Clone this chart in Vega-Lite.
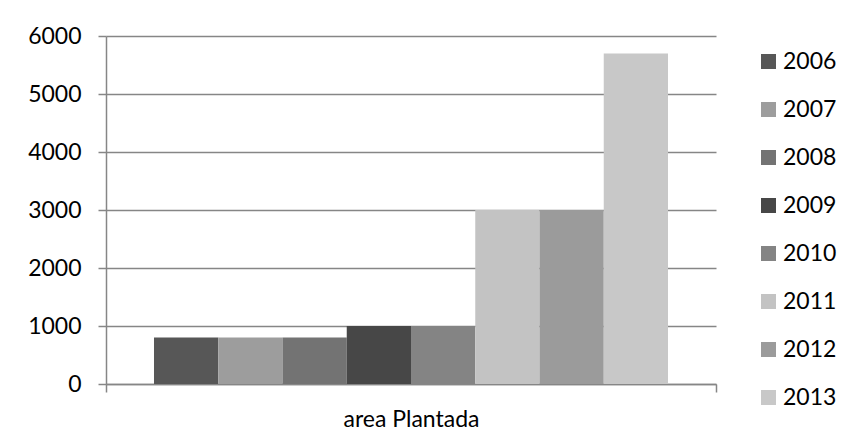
{
  "$schema": "https://vega.github.io/schema/vega-lite/v6.json",
  "width": 610,
  "height": 348,
  "autosize": {"type": "none"},
  "padding": {"left": 106, "top": 36, "right": 134, "bottom": 64},
  "background": "white",
  "config": {
    "view": {"stroke": null},
    "font": "Lato"
  },
  "data": {
    "values": [
      {"category": "area Plantada", "year": "2006", "value": 800},
      {"category": "area Plantada", "year": "2007", "value": 800},
      {"category": "area Plantada", "year": "2008", "value": 800},
      {"category": "area Plantada", "year": "2009", "value": 1000},
      {"category": "area Plantada", "year": "2010", "value": 1000},
      {"category": "area Plantada", "year": "2011", "value": 3000},
      {"category": "area Plantada", "year": "2012", "value": 3000},
      {"category": "area Plantada", "year": "2013", "value": 5700}
    ]
  },
  "mark": {"type": "bar", "strokeWidth": 0},
  "encoding": {
    "x": {
      "field": "category",
      "type": "nominal",
      "title": null,
      "scale": {"paddingInner": 0, "paddingOuter": 0},
      "axis": {
        "tickBand": "extent",
        "labelAngle": 0,
        "labelFont": "Lato",
        "labelFontSize": 23,
        "labelColor": "#000000",
        "labelPadding": 16,
        "tickSize": 8,
        "tickColor": "#868686",
        "tickWidth": 1.5,
        "domainColor": "#868686",
        "domainWidth": 1.5,
        "grid": false
      }
    },
    "xOffset": {
      "field": "year",
      "type": "nominal",
      "scale": {"paddingInner": 0, "paddingOuter": 0.747}
    },
    "y": {
      "field": "value",
      "type": "quantitative",
      "title": null,
      "scale": {"domain": [0, 6000], "nice": false},
      "axis": {
        "values": [0, 1000, 2000, 3000, 4000, 5000, 6000],
        "format": "d",
        "labelFont": "Lato",
        "labelFontSize": 23,
        "labelColor": "#000000",
        "labelPadding": 17,
        "tickSize": 8,
        "tickColor": "#868686",
        "tickWidth": 1.5,
        "domainColor": "#868686",
        "domainWidth": 1.5,
        "grid": true,
        "gridColor": "#868686",
        "gridWidth": 1.5
      }
    },
    "color": {
      "field": "year",
      "type": "nominal",
      "scale": {
        "domain": ["2006", "2007", "2008", "2009", "2010", "2011", "2012", "2013"],
        "range": ["#575757", "#9d9d9d", "#737373", "#474747", "#848484", "#c3c3c3", "#9b9b9b", "#c8c8c8"]
      },
      "legend": {
        "title": null,
        "orient": "none",
        "legendX": 651,
        "legendY": 14,
        "symbolType": "square",
        "symbolSize": 225,
        "symbolStrokeWidth": 0,
        "labelFont": "Lato",
        "labelFontSize": 23,
        "labelColor": "#000000",
        "labelOffset": 3,
        "rowPadding": 24
      }
    }
  }
}
